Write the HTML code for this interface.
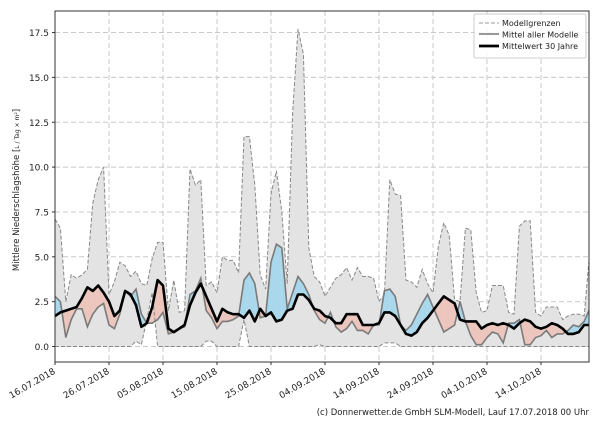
<!DOCTYPE html>
<html><head><meta charset="utf-8"><style>
body{margin:0;background:#fff;width:600px;height:420px;overflow:hidden;font-family:"DejaVu Sans","Liberation Sans",sans-serif}
</style></head><body>
<svg id="s" width="600" height="420" xmlns="http://www.w3.org/2000/svg" font-family="DejaVu Sans, Liberation Sans, sans-serif"></svg>
<script>
var mx=[7.1,6.6,2.5,4.0,3.8,4.0,4.3,8.0,9.3,10.0,2.9,3.6,4.7,4.5,3.9,4.2,3.5,3.4,4.9,5.8,5.8,2.0,3.7,1.9,2.0,9.9,9.0,9.3,3.4,3.6,3.0,5.0,4.8,4.8,4.1,11.7,11.7,9.0,4.0,3.2,8.5,9.8,7.5,3.5,13,17.7,16.3,5.5,3.9,3.6,2.8,3.3,3.8,4.0,4.4,3.7,4.4,3.9,3.9,3.8,2.5,2.9,9.3,8.5,8.4,3.7,3.6,3.3,4.3,3.5,3.0,5.6,6.9,6.2,2.6,2.5,6.6,6.5,3.0,1.9,2.0,3.4,3.4,3.4,1.9,1.8,6.7,7.0,7.0,1.9,1.7,2.2,2.2,2.2,1.5,1.7,1.8,1.8,1.7,4.8];
var N=100;
var mn=[];for(var i=0;i<N;i++)mn.push(0);
mn[15]=0.3;mn[16]=0.1;mn[17]=1.5;mn[18]=3.0;mn[28]=0.3;mn[29]=0.3;mn[35]=1.5;mn[49]=0.1;mn[61]=0.2;mn[62]=0.2;mn[63]=0.2;
var me=[2.8,2.5,0.5,1.5,2.1,2.1,1.1,1.8,2.2,2.4,1.2,1.0,1.8,3.1,2.8,3.2,1.8,1.3,1.3,1.5,1.9,0.7,0.8,1.0,1.1,2.9,3.1,3.8,2.0,1.6,1.0,1.4,1.4,1.5,1.7,3.7,4.1,3.5,1.6,1.7,4.7,5.7,5.5,2.1,3.0,3.9,3.5,2.9,2.0,1.5,1.3,1.9,1.1,0.8,1.0,1.4,0.9,0.9,0.7,1.2,1.2,3.1,3.2,2.8,1.2,0.9,1.2,1.8,2.4,2.9,2.2,1.5,0.8,1.0,1.2,2.5,1.4,0.6,0.1,0.1,0.5,0.8,0.7,0.2,1.3,1.3,1.5,0.1,0.1,0.5,0.6,0.9,0.5,0.7,0.7,0.9,1.2,1.1,1.4,2.0];
var cl=[1.7,1.9,2.0,2.1,2.2,2.7,3.3,3.1,3.4,3.0,2.5,1.7,2.0,3.1,2.9,2.3,1.1,1.3,2.2,3.7,3.4,1.0,0.8,1.0,1.2,2.3,3.0,3.5,2.8,2.1,1.4,2.1,1.9,1.8,1.8,1.6,2.0,1.4,2.1,1.7,1.9,1.4,1.5,2.0,2.1,2.9,2.9,2.6,2.1,2.0,1.7,1.6,1.3,1.3,1.8,1.8,1.8,1.2,1.2,1.2,1.3,1.9,1.9,1.7,1.2,0.7,0.6,0.8,1.3,1.6,2.0,2.4,2.8,2.6,2.4,1.5,1.4,1.4,1.4,1.0,1.2,1.3,1.2,1.3,1.2,1.0,1.3,1.5,1.4,1.1,1.0,1.1,1.3,1.2,1.0,0.7,0.7,0.8,1.2,1.2];
var X0=55,st=5.4;
function X(i){return Math.min(589,X0+i*st)}function Y(v){return 346.5-v*17.94}
var o='';
o+='<rect x="55" y="11" width="534" height="351" fill="#fff"/>';
var ys=[0,2.5,5,7.5,10,12.5,15,17.5];
ys.forEach(function(v){o+='<line x1="55" x2="589" y1="'+Y(v)+'" y2="'+Y(v)+'" stroke="#c8c8c8" stroke-dasharray="5,3"/>';
o+='<text x="49" y="'+(Y(v)+3.5)+'" font-size="9" text-anchor="end" fill="#222">'+v.toFixed(1)+'</text>';
o+='<line x1="52" x2="55" y1="'+Y(v)+'" y2="'+Y(v)+'" stroke="#333"/>';});
var dl=['16.07.2018','26.07.2018','05.08.2018','15.08.2018','25.08.2018','04.09.2018','14.09.2018','24.09.2018','04.10.2018','14.10.2018'];
dl.forEach(function(d,k){var x=55+k*54;o+='<line x1="'+x+'" x2="'+x+'" y1="11" y2="362" stroke="#c8c8c8" stroke-dasharray="5,3"/>';
o+='<line x1="'+x+'" x2="'+x+'" y1="362" y2="365" stroke="#333"/>';
o+='<text transform="translate('+(x+1)+',373) rotate(-30)" font-size="9" text-anchor="end" fill="#222">'+d+'</text>';});
var p='';for(var i=0;i<N;i++)p+=(i?'L':'M')+X(i)+','+Y(mx[i]);for(var i=N-1;i>=0;i--)p+='L'+X(i)+','+Y(mn[i]);
o+='<path d="'+p+'Z" fill="#e3e3e3"/>';
for(var i=0;i<N-1;i++){var a=me[i]-cl[i],b=me[i+1]-cl[i+1];
 function poly(x1,m1,c1,x2,m2,c2,col){o+='<polygon points="'+x1+','+Y(m1)+' '+x2+','+Y(m2)+' '+x2+','+Y(c2)+' '+x1+','+Y(c1)+'" fill="'+col+'"/>';}
 var w=X(i+1)-X(i);
 if(a*b>=0){poly(X(i),me[i],cl[i],X(i+1),me[i+1],cl[i+1],(a+b)>=0?'#a9d8ec':'#ecc5bd');}
 else{var t=a/(a-b),xm=X(i)+t*w,vm=me[i]+t*(me[i+1]-me[i]);
  poly(X(i),me[i],cl[i],xm,vm,vm,a>0?'#a9d8ec':'#ecc5bd');poly(xm,vm,vm,X(i+1),me[i+1],cl[i+1],b>0?'#a9d8ec':'#ecc5bd');}}
function line(arr,attr){var s='';for(var i=0;i<N;i++)s+=(i?'L':'M')+X(i).toFixed(1)+','+Y(arr[i]).toFixed(1);o+='<path d="'+s+'" fill="none" '+attr+'/>';}
line(mx,'stroke="#888" stroke-width="1" stroke-dasharray="4,2"');
line(mn,'stroke="#888" stroke-width="1" stroke-dasharray="4,2"');
line(me,'stroke="#7a7a7a" stroke-width="1.6"');
line(cl,'stroke="#000" stroke-width="2.6" stroke-linejoin="round"');
o+='<rect x="55" y="11" width="534" height="351" fill="none" stroke="#333" stroke-width="1"/>';
o+='<rect x="474" y="14" width="112" height="44" rx="2" fill="#fff" fill-opacity="0.85" stroke="#ccc"/>';
o+='<line x1="479" x2="499" y1="23" y2="23" stroke="#999" stroke-dasharray="4,2"/>';
o+='<line x1="479" x2="499" y1="34" y2="34" stroke="#777" stroke-width="1.6"/>';
o+='<line x1="479" x2="499" y1="46" y2="46" stroke="#000" stroke-width="2.8"/>';
o+='<text x="502" y="26" font-size="8" fill="#222">Modellgrenzen</text>';
o+='<text x="502" y="37.5" font-size="8" fill="#222">Mittel aller Modelle</text>';
o+='<text x="502" y="49" font-size="8" fill="#222">Mittelwert 30 Jahre</text>';
o+='<text transform="translate(19,190) rotate(-90)" font-size="8.5" text-anchor="middle" fill="#222">Mittlere Niederschlagshöhe [<tspan font-size="6">L / Tag × m²</tspan>]</text>';
o+='<text x="589" y="415" font-size="8.5" text-anchor="end" fill="#222">(c) Donnerwetter.de GmbH SLM-Modell, Lauf 17.07.2018 00 Uhr</text>';
document.getElementById('s').innerHTML=o;
</script>
</body></html>
